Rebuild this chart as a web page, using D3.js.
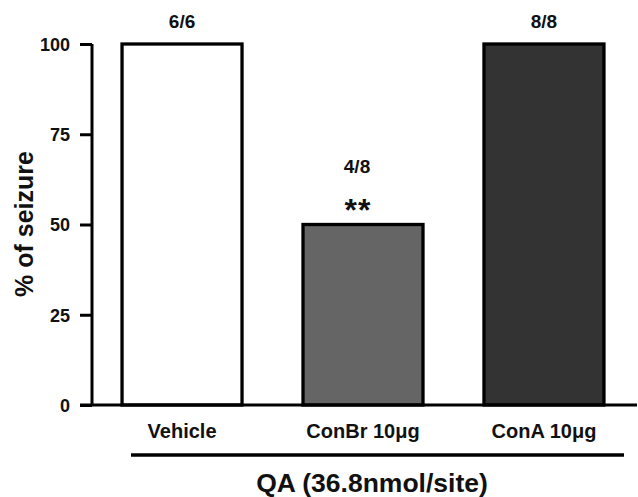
<!DOCTYPE html>
<html>
<head>
<meta charset="utf-8">
<script src="https://cdn.jsdelivr.net/npm/d3@7"></script>
<style>
  body { margin: 0; background: #fff; }
  text { font-family: "Liberation Sans", Arial, sans-serif; font-weight: bold; fill: #111; }
</style>
</head>
<body>
<div id="chart"></div>
<script>
// data
const groups = ["Vehicle", "ConBr 10μg", "ConA 10μg"];
const seizurePct = [100, 50, 100];
const counts = ["6/6", "4/8", "8/8"];
const stars = ["", "**", ""];
const fills = ["#ffffff", "#656565", "#333333"];
const yTicks = [0, 25, 50, 75, 100];

const width = 638, height = 497;
const axisX = 92;

const svg = d3.select("#chart").append("svg")
    .attr("width", width)
    .attr("height", height);

const x = d3.scaleBand()
    .domain(groups)
    .range([axisX, 634])
    .paddingInner(0.337)
    .paddingOuter(0.166);

const y = d3.scaleLinear()
    .domain([0, 100])
    .range([405, 44]);

// bars
svg.selectAll(".bar")
    .data(groups)
    .enter().append("rect")
    .attr("class", "bar")
    .attr("x", d => x(d))
    .attr("y", (d, i) => y(seizurePct[i]))
    .attr("width", x.bandwidth())
    .attr("height", (d, i) => y(0) - y(seizurePct[i]))
    .attr("fill", (d, i) => fills[i])
    .attr("stroke", "#000")
    .attr("stroke-width", 3.3);

// y axis
const yAxis = d3.axisLeft(y).tickValues(yTicks).tickSize(12).tickPadding(10);
const gy = svg.append("g")
    .attr("transform", `translate(${axisX},0)`)
    .call(yAxis);
gy.select(".domain").attr("stroke", "#000").attr("stroke-width", 3)
    .attr("d", `M0,${y(100)}V${y(0)}`);
gy.selectAll(".tick line").attr("stroke", "#000").attr("stroke-width", 3);
gy.selectAll(".tick text")
    .style("font-size", "18px")
    .style("font-family", "'Liberation Sans', Arial, sans-serif")
    .style("font-weight", "bold")
    .attr("dy", "0.36em")
    .attr("fill", "#111");

// x axis line
svg.append("line")
    .attr("x1", 80).attr("x2", 637)
    .attr("y1", y(0)).attr("y2", y(0))
    .attr("stroke", "#000").attr("stroke-width", 3);

// category labels
svg.selectAll(".cat")
    .data(groups)
    .enter().append("text")
    .attr("class", "cat")
    .attr("x", d => x(d) + x.bandwidth() / 2)
    .attr("y", 438)
    .attr("text-anchor", "middle")
    .style("font-size", "20px")
    .text(d => d);

// counts above bars
svg.selectAll(".count")
    .data(groups)
    .enter().append("text")
    .attr("class", "count")
    .attr("x", (d, i) => x(d) + x.bandwidth() / 2 - (stars[i] ? 6 : 0))
    .attr("y", (d, i) => y(seizurePct[i]) - (stars[i] ? 52 : 16))
    .attr("text-anchor", "middle")
    .style("font-size", "19px")
    .text((d, i) => counts[i]);

// significance stars
svg.selectAll(".star")
    .data(groups.filter((d, i) => stars[i]))
    .enter().append("text")
    .attr("x", d => x(d) + x.bandwidth() / 2 - 5)
    .attr("y", d => y(seizurePct[groups.indexOf(d)]) - 4)
    .attr("text-anchor", "middle")
    .style("font-size", "32px")
    .style("letter-spacing", "1px")
    .text(d => stars[groups.indexOf(d)]);

// group bracket
svg.append("line")
    .attr("x1", 131).attr("x2", 624)
    .attr("y1", 455).attr("y2", 455)
    .attr("stroke", "#000").attr("stroke-width", 3.5);

svg.append("text")
    .attr("x", 372)
    .attr("y", 492)
    .attr("text-anchor", "middle")
    .style("font-size", "26.5px")
    .text("QA (36.8nmol/site)");

// y axis title
svg.append("text")
    .attr("transform", "translate(33,224) rotate(-90)")
    .attr("text-anchor", "middle")
    .style("font-size", "25px")
    .text("% of seizure");
</script>
</body>
</html>
